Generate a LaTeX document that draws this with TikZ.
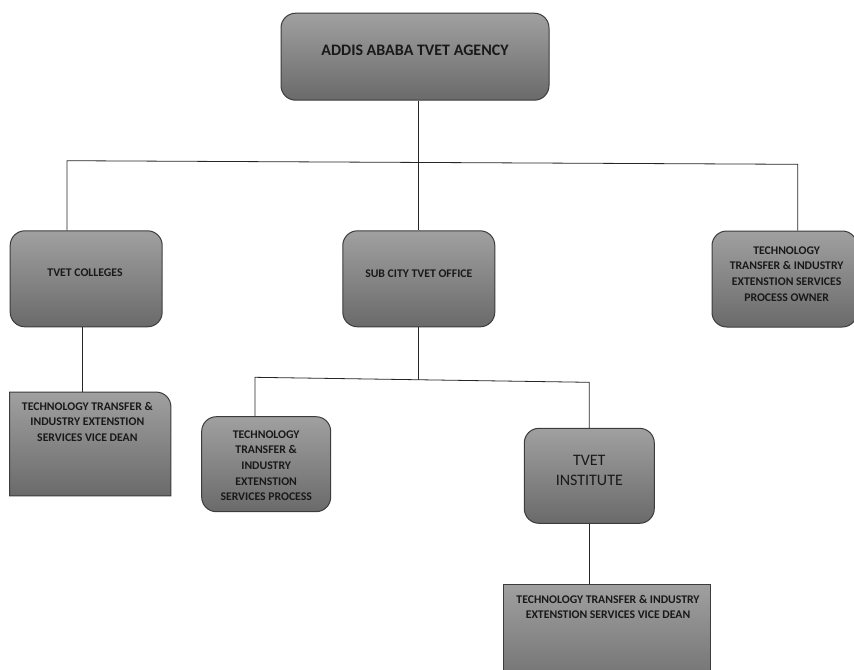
\documentclass[tikz,border=0pt]{standalone}
\usepackage{fontspec}
\setmainfont{Carlito}
\usepackage{xcolor}
\usetikzlibrary{positioning, backgrounds}

\definecolor{boxtop}{RGB}{160,160,160}
\definecolor{boxbot}{RGB}{106,106,106}
\definecolor{edge}{RGB}{60,60,60}

\begin{document}
\begin{tikzpicture}[
    x=0.75pt, y=-0.75pt,
    unit/.style={draw=edge, line width=0.75pt, rounded corners=11pt, top color=boxtop, bottom color=boxbot, inner sep=0pt},
    flat/.style={unit, sharp corners},
    txt/.style={font=\fontsize{8.8}{11.7}\selectfont\bfseries, align=center, inner sep=0pt, text=black!90},
    head/.style={txt, font=\fontsize{12}{15}\selectfont\bfseries},
    plain/.style={txt, font=\fontsize{12}{15.5}\selectfont},
    link/.style={draw=black!85, line width=0.6pt},
  ]

  \path[use as bounding box, clip] (0,0) rectangle (854,669);

  % boxes
  \node[unit, minimum width=201pt, minimum height=65.25pt] (agency) at (415,56.7) {};
  \node[unit, minimum width=114pt, minimum height=72pt] (colleges) at (86.2,278.8) {};
  \node[unit, minimum width=114pt, minimum height=72pt] (subcity) at (418.8,278.8) {};
  \node[unit, minimum width=108.75pt, minimum height=72pt] (owner) at (784.5,279) {};
  \node[minimum width=120.5pt, minimum height=77.5pt, inner sep=0pt] (vicedeanL) at (90.3,444) {};
  \node[unit, minimum width=96.75pt, minimum height=71.25pt] (process) at (266.2,464.2) {};
  \node[unit, minimum width=97.5pt, minimum height=71.25pt] (institute) at (589.3,475.8) {};
  \node[flat, minimum width=155.5pt, minimum height=87pt] (vicedeanR) at (607,642) {};

  \begin{scope}[on background layer]
    \path[top color=boxtop, bottom color=boxbot, draw=edge, line width=0.75pt]
      (vicedeanL.south west) -- (vicedeanL.north west) -- ([xshift=-11pt]vicedeanL.north east)
      arc[start angle=90, end angle=0, radius=11pt] -- (vicedeanL.south east) -- cycle;
  \end{scope}

  % texts
  \node[head] (agency-t) at ([yshift=4.6pt]agency.center) {ADDIS ABABA TVET AGENCY};
  \node[txt] (colleges-t) at ([xshift=-0.9pt, yshift=4.6pt]colleges.center) {TVET COLLEGES};
  \node[txt] (subcity-t) at ([yshift=4pt]subcity.center) {SUB CITY TVET OFFICE};
  \node[txt] (owner-t) at ([xshift=1.6pt, yshift=3.9pt]owner.center) {TECHNOLOGY\\TRANSFER \& INDUSTRY\\EXTENSTION SERVICES\\PROCESS OWNER};
  \node[txt] (vicedeanL-t) at ([xshift=-2.2pt, yshift=16.7pt]vicedeanL.center) {TECHNOLOGY TRANSFER \&\\INDUSTRY EXTENSTION\\SERVICES VICE DEAN};
  \node[txt] (process-t) at ([yshift=-1.1pt]process.center) {TECHNOLOGY\\TRANSFER \&\\INDUSTRY\\EXTENSTION\\SERVICES PROCESS};
  \node[plain] (institute-t) at ([yshift=4.1pt]institute.center) {TVET\\INSTITUTE};
  \node[txt] (vicedeanR-t) at ([xshift=0.75pt, yshift=26.4pt]vicedeanR.center) {TECHNOLOGY TRANSFER \& INDUSTRY\\EXTENSTION SERVICES VICE DEAN};

  % connectors
  \coordinate (busL) at (67,160.7);
  \coordinate (busR) at (797.7,164.3);
  \coordinate (hub) at (418.4,380);
  \coordinate (bus2L) at (255,377.3);
  \coordinate (bus2R) at (589.3,382.3);
  \coordinate (dropL) at ([xshift=-2.6pt]colleges.south);

  \draw[link] (subcity.north |- agency.south) -- (subcity.north);
  \draw[link] (colleges.north -| busL) -- (busL) -- (busR) -- (owner.north -| busR);
  \draw[link] (dropL) -- (dropL |- vicedeanL.north);
  \draw[link] (subcity.south) -- (subcity.south |- hub);
  \draw[link] (process.north -| bus2L) -- (bus2L) -- (bus2R) -- (institute.north);
  \draw[link] (institute.south) -- (institute.south |- vicedeanR.north);
\end{tikzpicture}
\end{document}
